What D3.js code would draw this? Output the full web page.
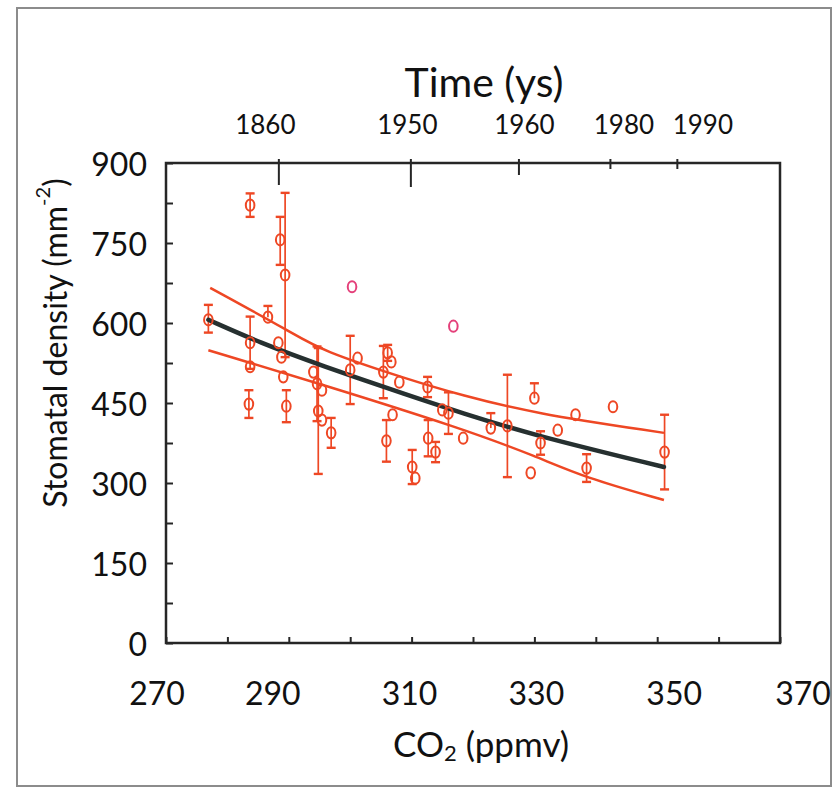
<!DOCTYPE html>
<html>
<head>
<meta charset="utf-8">
<script src="https://cdn.jsdelivr.net/npm/d3@7/dist/d3.min.js"></script>
<style>
  html, body { margin: 0; padding: 0; background: #fff; }
  svg { display: block; font-family: Lato, "Open Sans", sans-serif; }
</style>
</head>
<body>
<svg id="chart" width="838" height="795"></svg>
<script>
// CO2 (ppmv), stomatal density (mm-2), error bar up / down
const co2 = [276.9, 283.7, 288.6, 289.4, 286.6, 283.7, 283.7, 283.5, 288.3, 288.8,
  289.1, 289.6, 294.0, 294.6, 295.4, 294.8, 295.4, 296.9, 300.0, 301.2,
  305.4, 306.1, 306.7, 308.0, 306.9, 305.9, 312.6, 315.0, 316.0, 312.7,
  313.9, 310.1, 310.6, 318.4, 316.8, 300.3, 322.9, 325.6, 330.0, 329.4,
  331.0, 333.8, 336.7, 338.5, 342.8, 351.2];
const density = [606, 821, 756, 690, 611, 563, 518, 448, 563, 536,
  499, 444, 508, 486, 474, 435, 418, 394, 512, 534,
  508, 544, 527, 489, 428, 379, 480, 437, 431, 384,
  358, 330, 309, 384, 594, 668, 403, 407, 459, 319,
  375, 399, 428, 328, 443, 358];
const errUp = [28, 22, 43, 154, 21, 49, 0, 26, 0, 0,
  0, 30, 0, 70, 0, 118, 0, 28, 64, 0,
  49, 15, 0, 0, 0, 39, 19, 0, 39, 34,
  19, 32, 0, 0, 0, 0, 28, 96, 28, 0,
  22, 0, 0, 26, 0, 70];
const errDown = [24, 22, 47, 154, 0, 49, 0, 26, 0, 0,
  0, 30, 0, 70, 0, 118, 0, 28, 64, 0,
  49, 15, 0, 0, 0, 39, 19, 0, 39, 34,
  19, 32, 0, 0, 0, 0, 0, 96, 0, 0,
  22, 0, 0, 26, 0, 70];
const pinkPoints = [34, 35];

// fitted line and band
const fitX = [276.9, 285.3, 295.1, 309.8, 318.0, 329.7, 351.1];
const fitY = [606, 563, 521, 463, 432, 390, 330];
const upperX = [277.2, 290.7, 295.1, 309.8, 318.0, 329.7, 351.1];
const upperY = [666, 581, 549, 493, 465, 431, 394];
const lowerX = [276.9, 295.6, 318.0, 330.5, 338.0, 351.1];
const lowerY = [549, 484, 403, 349, 311, 268];

// axes
const yTicks = [0, 150, 300, 450, 600, 750, 900];
const xTicks = [270, 290, 310, 330, 350, 370];
const timeTickCo2 = [288.3, 309.8, 327.4, 342.3, 353.2];
const timeLabels = ["1860", "1950", "1960", "1980", "1990"];

const svg = d3.select("#chart");
const mLeft = 166, mRight = 780, mTop = 163, mBottom = 643;

const x = d3.scaleLinear().domain([270, 370]).range([mLeft, mRight]);
const y = d3.scaleLinear().domain([0, 900]).range([mBottom, mTop]);

const red = "#ee4724";

// outer border
svg.append("rect")
  .attr("x", 17).attr("y", 8).attr("width", 814).attr("height", 778)
  .attr("fill", "#fff").attr("stroke", "#8c8c8c").attr("stroke-width", 2);

// frame
svg.append("rect")
  .attr("x", mLeft).attr("y", mTop).attr("width", mRight - mLeft).attr("height", mBottom - mTop)
  .attr("fill", "none").attr("stroke", "#262626").attr("stroke-width", 2.5);

// inner ticks
const gL = svg.append("g").attr("transform", `translate(${mLeft},0)`)
  .call(d3.axisRight(y).tickValues(d3.range(0, 901, 75)).tickSize(7).tickFormat(""));
const gB = svg.append("g").attr("transform", `translate(0,${mBottom})`)
  .call(d3.axisTop(x).tickValues(d3.range(270, 371, 10)).tickSize(6).tickFormat(""));
const topLen = [22, 24, 12, 6, 6];
const gT = svg.append("g").attr("transform", `translate(0,${mTop})`)
  .call(d3.axisBottom(x).tickValues(timeTickCo2).tickSize(0).tickFormat(""));
gT.selectAll(".tick line").attr("y1", -4).attr("y2", (d, i) => topLen[i]);
[gL, gB, gT].forEach(g => {
  g.select(".domain").remove();
  g.selectAll(".tick line").attr("stroke", "#262626").attr("stroke-width", 2);
});

// y tick labels
svg.append("g").selectAll("text").data(yTicks).join("text")
  .attr("x", 147).attr("y", d => y(d))
  .attr("text-anchor", "end").attr("dominant-baseline", "central")
  .attr("font-size", 32).attr("fill", "#111")
  .text(d => d);

// x tick labels (hand-placed in the original)
const xShift = [-9, -16, -2, 2, 17, 23];
svg.append("g").selectAll("text").data(xTicks).join("text")
  .attr("x", (d, i) => x(d) + xShift[i]).attr("y", 692)
  .attr("text-anchor", "middle").attr("dominant-baseline", "central")
  .attr("font-size", 32).attr("fill", "#111")
  .text(d => d);

// top time labels
const tShift = [-13, -3, 6, 14, 26];
svg.append("g").selectAll("text").data(timeLabels).join("text")
  .attr("x", (d, i) => x(timeTickCo2[i]) + tShift[i]).attr("y", 124)
  .attr("text-anchor", "middle").attr("dominant-baseline", "central")
  .attr("font-size", 26).attr("fill", "#111")
  .text(d => d);

// titles
svg.append("text")
  .attr("x", 484).attr("y", 81)
  .attr("text-anchor", "middle").attr("dominant-baseline", "central")
  .attr("font-size", 41).attr("fill", "#111")
  .text("Time (ys)");

const xt = svg.append("text")
  .attr("x", 481).attr("y", 743)
  .attr("text-anchor", "middle").attr("dominant-baseline", "central")
  .attr("font-size", 35).attr("fill", "#111");
xt.append("tspan").text("CO");
xt.append("tspan").attr("font-size", 22).attr("dy", 9).text("2");
xt.append("tspan").attr("dy", -9).text(" (ppmv)");

const yt = svg.append("text")
  .attr("transform", "translate(54,343) rotate(-90)")
  .attr("text-anchor", "middle").attr("dominant-baseline", "central")
  .attr("font-size", 32).attr("fill", "#111");
yt.append("tspan").text("Stomatal density (mm");
yt.append("tspan").attr("font-size", 20).attr("dy", -12).text("-2");
yt.append("tspan").attr("dy", 12).text(")");

// band and fit lines
const line = d3.line().x(d => x(d[0])).y(d => y(d[1])).curve(d3.curveBasis);
svg.append("path").datum(d3.zip(upperX, upperY)).attr("d", line)
  .attr("fill", "none").attr("stroke", red).attr("stroke-width", 2.5);
svg.append("path").datum(d3.zip(lowerX, lowerY)).attr("d", line)
  .attr("fill", "none").attr("stroke", red).attr("stroke-width", 2.5);

// error bars
const idx = d3.range(co2.length);
const bars = svg.append("g").attr("stroke", red).attr("stroke-width", 1.7);
idx.forEach(i => {
  const cx = x(co2[i]);
  if (errUp[i] > 0 || errDown[i] > 0) {
    bars.append("line").attr("x1", cx).attr("x2", cx)
      .attr("y1", y(density[i] + errUp[i])).attr("y2", y(density[i] - errDown[i]));
  }
  if (errUp[i] > 0) {
    bars.append("line").attr("x1", cx - 4.5).attr("x2", cx + 4.5)
      .attr("y1", y(density[i] + errUp[i])).attr("y2", y(density[i] + errUp[i]))
      .attr("stroke-width", 2.4);
  }
  if (errDown[i] > 0) {
    bars.append("line").attr("x1", cx - 4.5).attr("x2", cx + 4.5)
      .attr("y1", y(density[i] - errDown[i])).attr("y2", y(density[i] - errDown[i]))
      .attr("stroke-width", 2.4);
  }
});

// black fit line
svg.append("path").datum(d3.zip(fitX, fitY)).attr("d", line)
  .attr("fill", "none").attr("stroke", "#263030").attr("stroke-width", 4.5)
  .attr("stroke-linecap", "round");

// points
svg.append("g").selectAll("ellipse").data(idx).join("ellipse")
  .attr("cx", i => x(co2[i])).attr("cy", i => y(density[i]))
  .attr("rx", 4.3).attr("ry", 5.6)
  .attr("fill", "none")
  .attr("stroke", i => pinkPoints.includes(i) ? "#e4407a" : red)
  .attr("stroke-width", 2);
</script>
</body>
</html>
